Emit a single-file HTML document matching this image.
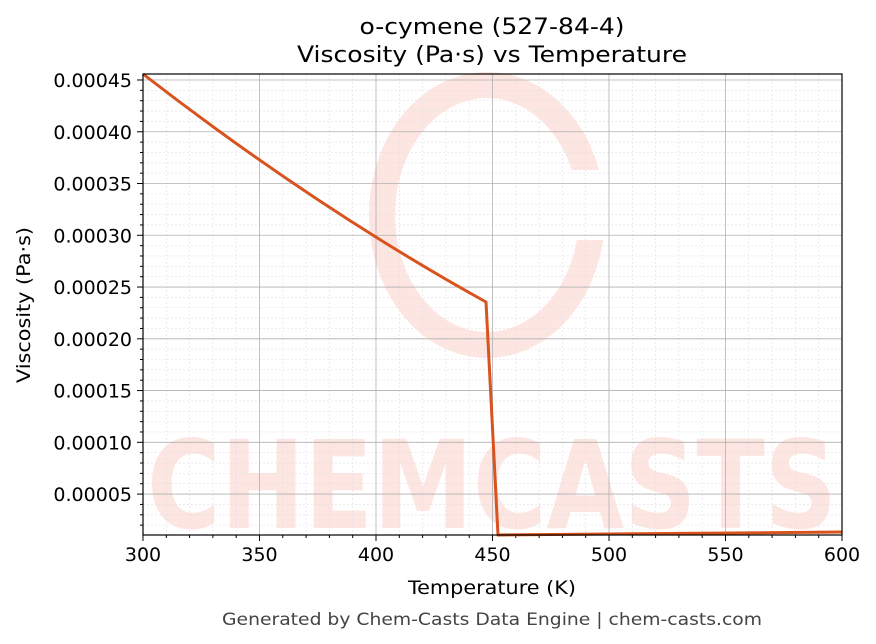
<!DOCTYPE html>
<html><head><meta charset="utf-8"><style>body{margin:0;background:#fff}svg{display:block}</style></head><body>
<svg width="876" height="644" xmlns="http://www.w3.org/2000/svg" font-family="DejaVu Sans, Liberation Sans, sans-serif">
<rect width="876" height="644" fill="#fff"/>
<g opacity="0.9">
<ellipse cx="487" cy="215" rx="105" ry="130" fill="none" stroke="#fde3df" stroke-width="26"/>
<rect x="560" y="170" width="60" height="70" fill="#fff"/>
<text x="492" y="528" text-anchor="middle" font-size="122" font-weight="bold" fill="#fde3df" textLength="690" lengthAdjust="spacingAndGlyphs">CHEMCASTS</text>
</g>
<g id="grid">
<g stroke="#e0e0e0" stroke-width="0.6" stroke-dasharray="2,2" id="minor"></g>
<g stroke="#b0b0b0" stroke-width="0.8" id="major"></g>
</g>
<g id="ticks" stroke="#000" stroke-width="1"></g>
<g id="labels" font-size="19" fill="#000"></g>
<path fill="none" stroke="#d9531e" stroke-width="3" stroke-linejoin="round"
d="M143,74 Q314.5,207 486,302 L498,535 L842,532"/>
<rect x="143" y="74" width="699" height="461" fill="none" stroke="#000" stroke-width="1.2"/>
<text x="492" y="34" text-anchor="middle" font-size="22" textLength="265" lengthAdjust="spacingAndGlyphs">o-cymene (527-84-4)</text>
<text x="492" y="62" text-anchor="middle" font-size="22" textLength="390" lengthAdjust="spacingAndGlyphs">Viscosity (Pa·s) vs Temperature</text>
<text x="492" y="594" text-anchor="middle" font-size="19" textLength="168" lengthAdjust="spacingAndGlyphs">Temperature (K)</text>
<text transform="translate(30,305) rotate(-90)" text-anchor="middle" font-size="19" textLength="156" lengthAdjust="spacingAndGlyphs">Viscosity (Pa·s)</text>
<text x="492" y="625" text-anchor="middle" font-size="17" fill="#444" textLength="540" lengthAdjust="spacingAndGlyphs">Generated by Chem-Casts Data Engine | chem-casts.com</text>
<script>
var ns="http://www.w3.org/2000/svg";
function L(g,x1,y1,x2,y2){var l=document.createElementNS(ns,"line");l.setAttribute("x1",x1);l.setAttribute("y1",y1);l.setAttribute("x2",x2);l.setAttribute("y2",y2);document.getElementById(g).appendChild(l);}
function T(x,y,s,a){var t=document.createElementNS(ns,"text");t.setAttribute("x",x);t.setAttribute("y",y);t.setAttribute("text-anchor",a);t.textContent=s;document.getElementById("labels").appendChild(t);}
var px=699/300;
for(var k=300;k<=600;k+=10){var x=143+(k-300)*px;
 if(k%50==0){L("major",x,74,x,535);L("ticks",x,535,x,541);T(x,561,k,"middle");}
 else{L("minor",x,74,x,535);L("ticks",x,535,x,538);}}
function yv(v){return 80+(45-v)/5*51.76;}
for(var v=1;v<=45;v++){var y=yv(v);if(y<74||y>535)continue;
 if(v%5==0){L("major",143,y,842,y);L("ticks",137,y,143,y);T(132,y+7,(v/100000).toFixed(5),"end");}
 else{L("minor",143,y,842,y);L("ticks",140,y,143,y);}}
</script>
</svg>
</body></html>
